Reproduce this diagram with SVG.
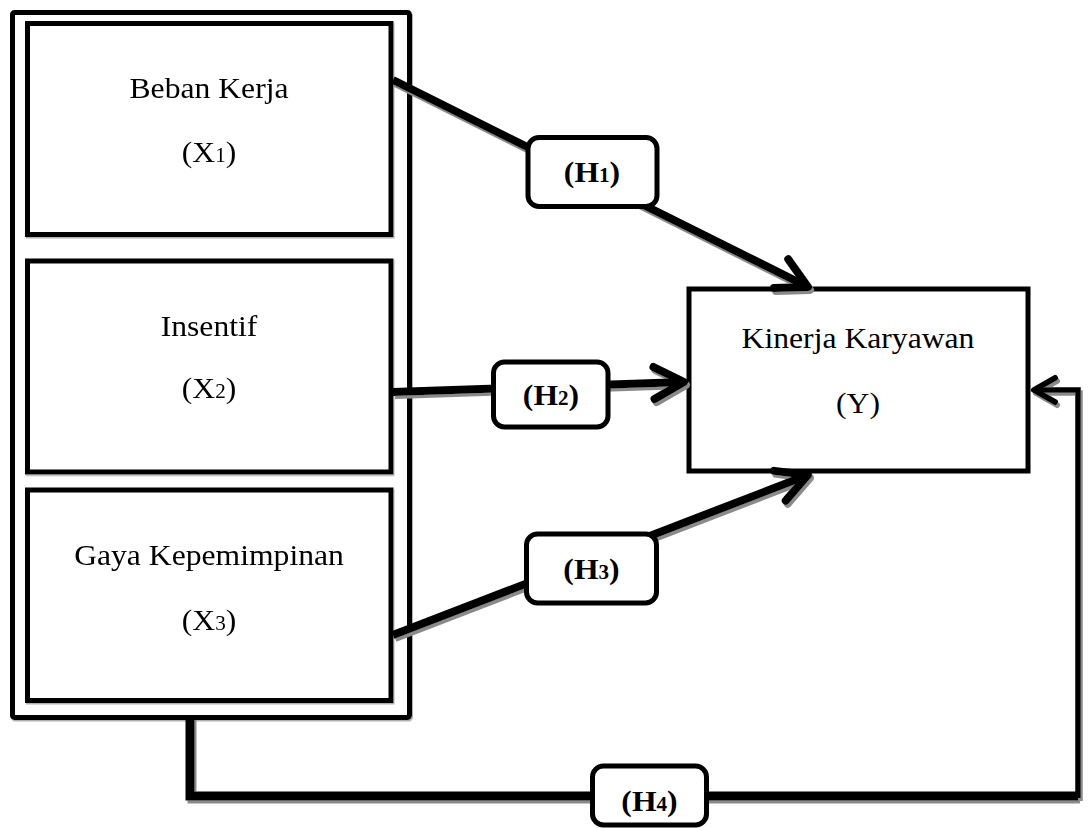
<svg xmlns="http://www.w3.org/2000/svg" width="1089" height="828" viewBox="0 0 1089 828">
  <style>
    .box { fill: #fff; stroke: #000; stroke-width: 5; }
    .outer { fill: #fff; stroke: #000; stroke-width: 5; }
    .lbl { fill: #fff; stroke: #000; stroke-width: 5; }
    .t { font-family: "Liberation Serif", "Times New Roman", serif; font-size: 30px; fill: #000; text-anchor: middle; }
    .b { font-weight: bold; }
    .sub { font-size: 20px; }
    .ln { fill: none; stroke: #000; stroke-linejoin: miter; }
  </style>
  <defs>
    <filter id="sh" x="-10%" y="-10%" width="120%" height="120%">
      <feDropShadow dx="2" dy="3" stdDeviation="0.7" flood-color="#8a8a8a" flood-opacity="1"/>
    </filter>
    <filter id="shs" x="-5%" y="-5%" width="110%" height="110%">
      <feDropShadow dx="1" dy="1.5" stdDeviation="0.5" flood-color="#b0b0b0" flood-opacity="1"/>
    </filter>
    <marker id="arr" markerUnits="userSpaceOnUse" viewBox="-40 -22 46 44" markerWidth="46" markerHeight="44" refX="0" refY="0" orient="auto" overflow="visible">
      <path d="M-30,-16 L0,0 L-30,16" fill="none" stroke="#000" stroke-width="8" stroke-linecap="round" stroke-linejoin="round"/>
    </marker>
    <marker id="arr2" markerUnits="userSpaceOnUse" viewBox="-30 -16 34 32" markerWidth="34" markerHeight="32" refX="0" refY="0" orient="auto" overflow="visible">
      <path d="M-21,-12 L0,0 L-21,12" fill="none" stroke="#000" stroke-width="6" stroke-linecap="round" stroke-linejoin="round"/>
    </marker>
  </defs>
  <rect width="1089" height="828" fill="#fff"/>

  <g id="container" filter="url(#shs)">
    <rect class="outer" x="12.5" y="12.5" width="397" height="705" rx="2"/>
  </g>

  <g id="x1" filter="url(#shs)">
    <rect class="box" x="27.5" y="23.5" width="363.5" height="211"/>
    <text class="t" transform="translate(209,98) scale(1.055,1)">Beban Kerja</text>
    <text class="t" transform="translate(209,162) scale(1.055,1)">(X<tspan class="sub">1</tspan>)</text>
  </g>

  <g id="x2" filter="url(#shs)">
    <rect class="box" x="27.5" y="261" width="363.5" height="211"/>
    <text class="t" transform="translate(209,336) scale(1.055,1)">Insentif</text>
    <text class="t" transform="translate(209,398) scale(1.055,1)">(X<tspan class="sub">2</tspan>)</text>
  </g>

  <g id="x3" filter="url(#shs)">
    <rect class="box" x="27.5" y="490" width="363.5" height="210.5"/>
    <text class="t" transform="translate(209,565) scale(1.055,1)">Gaya Kepemimpinan</text>
    <text class="t" transform="translate(209,630) scale(1.055,1)">(X<tspan class="sub">3</tspan>)</text>
  </g>

  <g id="y">
    <rect class="box" x="689" y="289" width="339" height="182"/>
    <text class="t" transform="translate(858,348) scale(1.055,1)">Kinerja Karyawan</text>
    <text class="t" transform="translate(858,413) scale(1.055,1)">(Y)</text>
  </g>

  <g id="connectors" filter="url(#sh)">
    <path class="ln" d="M393,80 L808,287" stroke-width="8" marker-end="url(#arr)"/>
    <path class="ln" d="M393,392 L684,382" stroke-width="8" marker-end="url(#arr)"/>
    <path class="ln" d="M393,635 L808,475" stroke-width="8" marker-end="url(#arr)"/>
    <path class="ln" d="M190,717 L190,796 L1078,796" stroke-width="9"/>
    <path class="ln" d="M1078,798 L1078,390 L1034,390" stroke-width="5.5" marker-end="url(#arr2)"/>
  </g>

  <g id="labels">
    <g id="h1">
      <rect class="lbl" x="528" y="137.5" width="129" height="69" rx="11"/>
      <text class="t b" transform="translate(592,182) scale(1.055,1)">(H<tspan class="sub">1</tspan>)</text>
    </g>
    <g id="h2">
      <rect class="lbl" x="493.5" y="362" width="114.5" height="65" rx="11"/>
      <text class="t b" transform="translate(551,405) scale(1.055,1)">(H<tspan class="sub">2</tspan>)</text>
    </g>
    <g id="h3">
      <rect class="lbl" x="526.5" y="534" width="130" height="69" rx="11"/>
      <text class="t b" transform="translate(591.5,579) scale(1.055,1)">(H<tspan class="sub">3</tspan>)</text>
    </g>
    <g id="h4">
      <rect class="lbl" x="592.5" y="766" width="114" height="59" rx="11"/>
      <text class="t b" transform="translate(649.5,811) scale(1.055,1)">(H<tspan class="sub">4</tspan>)</text>
    </g>
  </g>
</svg>
